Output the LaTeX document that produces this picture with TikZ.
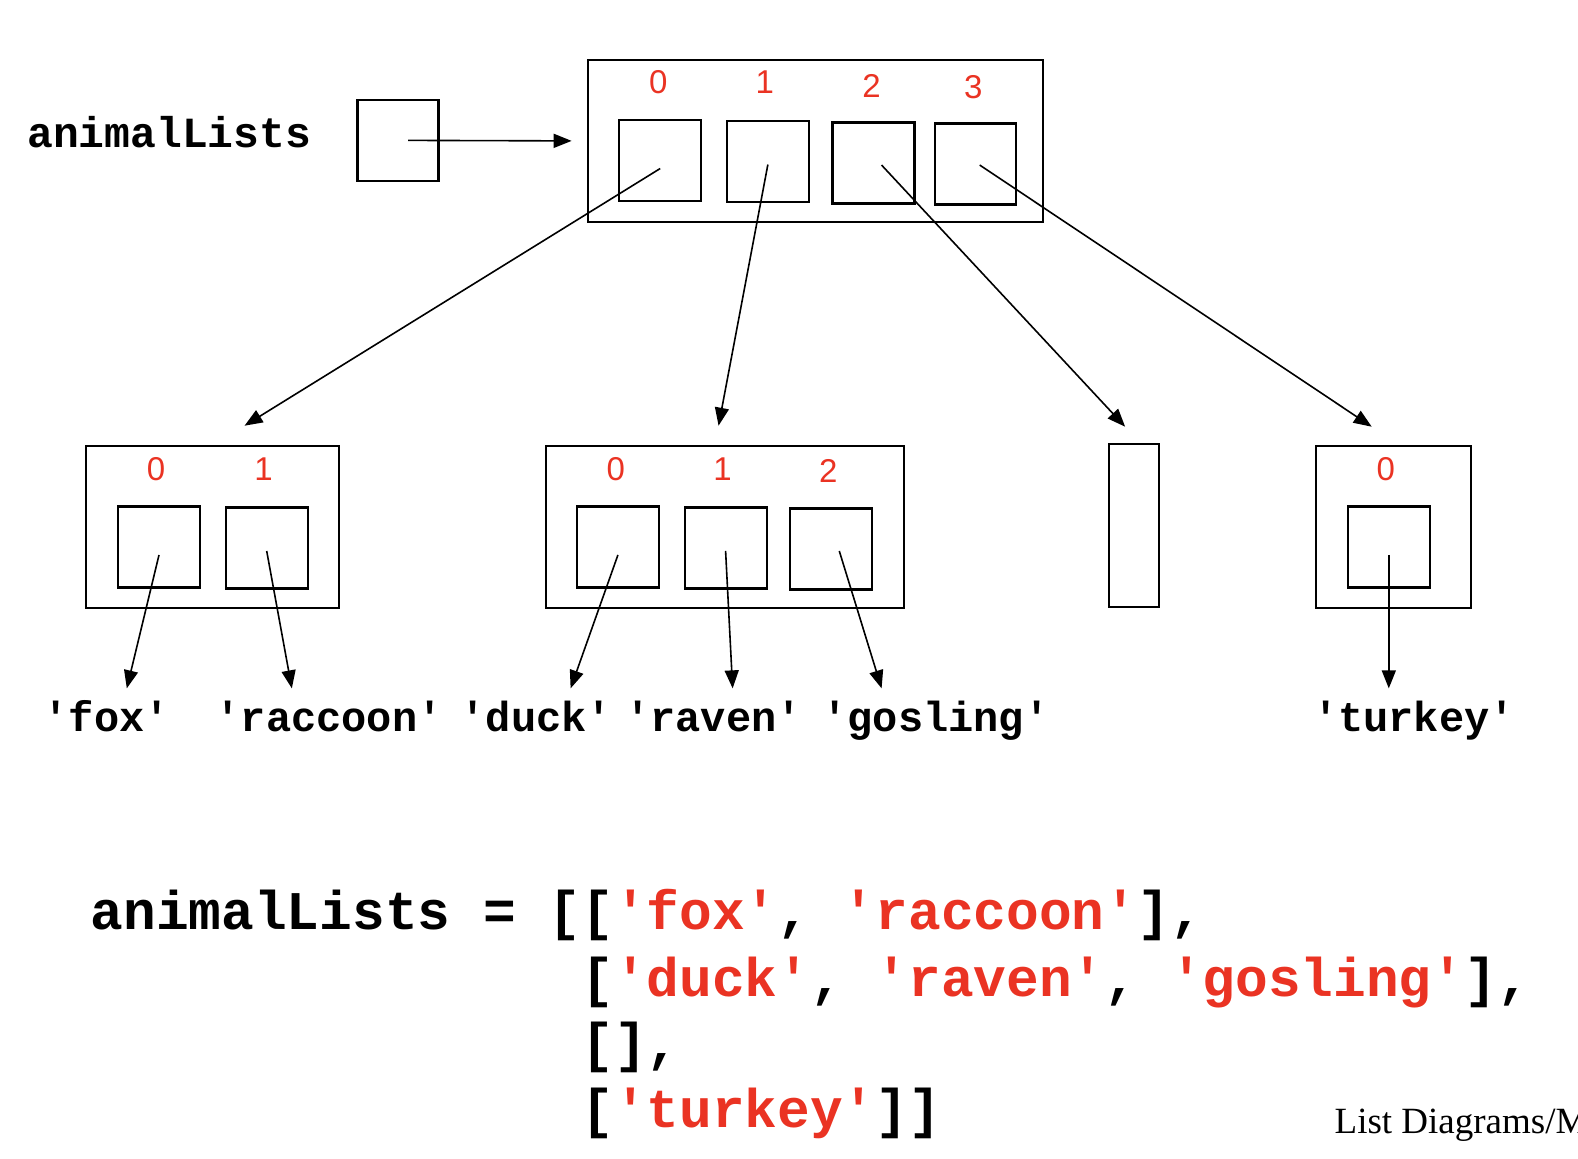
\documentclass[tikz,border=0pt]{standalone}
\usepackage{fontspec}
\setmainfont{Liberation Serif}
\setmonofont{Liberation Mono}
\newfontfamily\idxfont{Liberation Sans}
\usetikzlibrary{arrows.meta}
\definecolor{idxred}{RGB}{234,51,35}

\begin{document}
\begin{tikzpicture}[x=1.0064pt,y=-1.0064pt,
  cell/.style={draw,line width=2.2pt,minimum width=82pt,minimum height=81pt,inner sep=0pt},
  frame/.style={draw,line width=2.2pt,inner sep=0pt},
  idx/.style={text=idxred,font=\idxfont\fontsize{33}{33}\selectfont,inner sep=0pt},
  ref/.style={line width=1.6pt,-{Triangle[length=18pt,width=14pt]}},
  strlbl/.style={font=\ttfamily\bfseries\fontsize{42}{42}\selectfont,anchor=base,inner sep=0pt},
  code/.style={font=\ttfamily\bfseries\fontsize{54.5}{54.5}\selectfont,anchor=base west,inner sep=0pt}]
\clip (0,0) rectangle (1568,1151);
\useasboundingbox (0,0) rectangle (1568,1151);

% variable and its reference
\node[font=\ttfamily\bfseries\fontsize{43}{43}\selectfont,anchor=base west,inner sep=0pt] (var) at (27,147) {animalLists};
\node[cell,minimum width=81pt] (vbox) at (395.5,139.5) {};

% outer list
\node[frame,minimum width=455pt,minimum height=162pt] (outer) at (810.5,140) {};
\node[cell] (o0) at (656,159.5) {};
\node[cell] (o1) at (763,160.5) {};
\node[cell] (o2) at (868,162) {};
\node[cell,minimum width=81pt] (o3) at (969.5,163) {};
\node[idx] (oi0) at (654,82) {0};
\node[idx] (oi1) at (760,82) {1};
\node[idx] (oi2) at (866,85) {2};
\node[idx] (oi3) at (967,87) {3};

% inner lists
\node[frame,minimum width=253pt,minimum height=162pt] (la) at (211.5,524) {};
\node[cell] (a0) at (158,543.5) {};
\node[cell] (a1) at (265,544.5) {};
\node[idx] (ai0) at (155,466) {0};
\node[idx] (ai1) at (262,466) {1};

\node[frame,minimum width=358pt,minimum height=162pt] (lb) at (720,524) {};
\node[cell] (b0) at (614,543.5) {};
\node[cell] (b1) at (721,544.5) {};
\node[cell] (b2) at (826,545.5) {};
\node[idx] (bi0) at (612,466) {0};
\node[idx] (bi1) at (718,466) {1};
\node[idx] (bi2) at (823,468) {2};

\node[frame,minimum width=50pt,minimum height=163pt] (lc) at (1127,522.5) {};

\node[frame,minimum width=155pt,minimum height=162pt] (ld) at (1384.5,524) {};
\node[cell] (d0) at (1380,543.5) {};
\node[idx] (di0) at (1377,466) {0};

% strings
\node[strlbl] (sfox) at (106,727) {'fox'};
\node[strlbl] (srac) at (327,727) {'raccoon'};
\node[strlbl] (sduck) at (533,727) {'duck'};
\node[strlbl] (srav) at (709,727) {'raven'};
\node[strlbl] (sgos) at (930,727) {'gosling'};
\node[strlbl] (stur) at (1405,727) {'turkey'};

% arrow tips
\coordinate (tvar) at (568,140);
\coordinate (ta) at (243,423);
\coordinate (tb) at (714,423);
\coordinate (tc) at (1118,424);
\coordinate (td) at (1363,424);
\coordinate (tfox) at (126,684);
\coordinate (trac) at (290,684);
\coordinate (tduck) at (567,684);
\coordinate (trav) at (728,684);
\coordinate (tgos) at (876,684);
\coordinate (ttur) at (1380,684);

\draw[ref] ([xshift=10pt]vbox.center) -- (tvar);
\draw[ref] ([yshift=-8pt]o0.center) -- (ta);
\draw[ref] ([yshift=-3pt]o1.center) -- (tb);
\draw[ref] ([xshift=8pt,yshift=-2pt]o2.center) -- (tc);
\draw[ref] ([xshift=4pt,yshift=-1pt]o3.center) -- (td);
\draw[ref] ([yshift=-8pt]a0.center) -- (tfox);
\draw[ref] ([yshift=-3pt]a1.center) -- (trac);
\draw[ref] ([yshift=-8pt]b0.center) -- (tduck);
\draw[ref] ([yshift=-3pt]b1.center) -- (trav);
\draw[ref] ([xshift=8pt,yshift=-2pt]b2.center) -- (tgos);
\draw[ref] ([yshift=-8pt]d0.center) -- (ttur);

% source code
\node[code] (c1) at (90,924) {animalLists = [[\textcolor{idxred}{'fox'}, \textcolor{idxred}{'raccoon'}],};
\node[code] (c2) at (90,990) {\hphantom{animalLists = [}[\textcolor{idxred}{'duck'}, \textcolor{idxred}{'raven'}, \textcolor{idxred}{'gosling'}],};
\node[code] (c3) at (90,1055) {\hphantom{animalLists = [}[],};
\node[code] (c4) at (90,1120) {\hphantom{animalLists = [}[\textcolor{idxred}{'turkey'}]]};

% footer
\node[font=\fontsize{37}{37}\selectfont,anchor=base west,inner sep=0pt] (foot) at (1326,1126) {List Diagrams/M};
\end{tikzpicture}
\end{document}
